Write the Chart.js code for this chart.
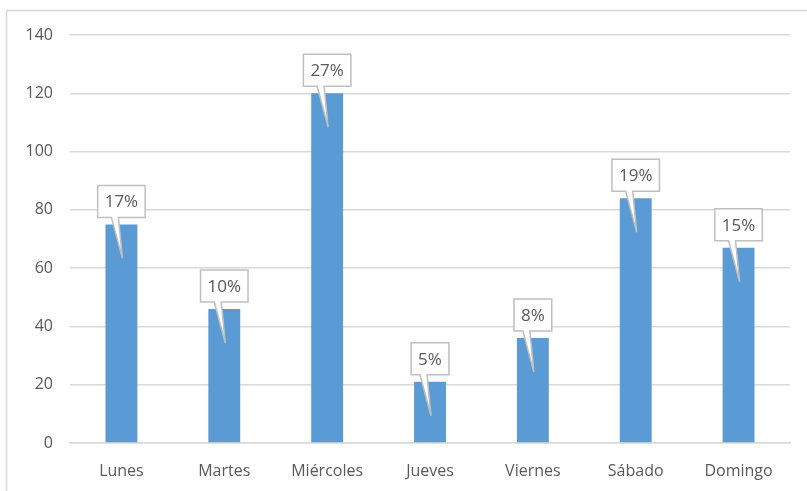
<!DOCTYPE html>
<html>
<head>
<meta charset="utf-8">
<script src="https://cdn.jsdelivr.net/npm/chart.js@4"></script>
<style>
  html, body { margin: 0; padding: 0; background: #fff; }
  #wrap { width: 807px; height: 491px; position: relative; }
</style>
</head>
<body>
<div id="wrap"><canvas id="myChart" width="807" height="491"></canvas></div>
<script>
const labels = ['Lunes', 'Martes', 'Miércoles', 'Jueves', 'Viernes', 'Sábado', 'Domingo'];
const datapoints = [75, 46, 120, 21, 36, 84, 67];
const percentLabels = ['17%', '10%', '27%', '5%', '8%', '19%', '15%'];
const yTicks = [0, 20, 40, 60, 80, 100, 120, 140];

const textColor = '#595959';
const fontFamily = '"Open Sans", "Liberation Sans", sans-serif';

// frame around the chart (only left and top edges are visible in the picture)
const framePlugin = {
    id: 'frame',
    beforeDraw(chart) {
        const ctx = chart.ctx;
        ctx.save();
        ctx.strokeStyle = '#d9d9d9';
        ctx.lineWidth = 1.5;
        ctx.strokeRect(6.5, 10.5, 1000, 600);
        ctx.restore();
    }
};

// excel style callout labels
const calloutPlugin = {
    id: 'callouts',
    afterDatasetsDraw(chart) {
        const ctx = chart.ctx;
        const meta = chart.getDatasetMeta(0);
        ctx.save();
        ctx.font = '17px ' + fontFamily;
        meta.data.forEach((bar, i) => {
            const text = percentLabels[i];
            const w = ctx.measureText(text).width + 14;
            const h = 32;
            const cx = bar.x;
            const bottom = bar.y - 7;
            const top = bottom - h;
            const left = cx - w / 2;
            const right = cx + w / 2;
            const tipX = cx + 1;
            const tipY = bar.y + 34;

            ctx.beginPath();
            ctx.moveTo(left, top);
            ctx.lineTo(right, top);
            ctx.lineTo(right, bottom);
            ctx.lineTo(cx - 3, bottom);
            ctx.lineTo(tipX, tipY);
            ctx.lineTo(cx - 10, bottom);
            ctx.lineTo(left, bottom);
            ctx.closePath();
            ctx.fillStyle = '#ffffff';
            ctx.fill();
            ctx.strokeStyle = '#bfbfbf';
            ctx.lineWidth = 1.5;
            ctx.stroke();

            ctx.fillStyle = textColor;
            ctx.textAlign = 'center';
            ctx.textBaseline = 'middle';
            ctx.fillText(text, cx, top + h / 2 + 1);
        });
        ctx.restore();
    }
};

const data = {
    labels: labels,
    datasets: [{
        data: datapoints,
        backgroundColor: '#5b9bd5',
        barPercentage: 0.31,
        categoryPercentage: 1
    }]
};

const config = {
    type: 'bar',
    data: data,
    options: {
        responsive: false,
        animation: false,
        layout: {
            padding: { top: 35, right: 17, left: 0, bottom: 0 }
        },
        plugins: {
            legend: { display: false },
            tooltip: { enabled: false }
        },
        scales: {
            x: {
                grid: { display: false },
                border: { color: '#d9d9d9', width: 1.5 },
                ticks: {
                    color: textColor,
                    font: { family: fontFamily, size: 16 },
                    padding: 11,
                    maxRotation: 0
                },
                afterFit(scale) { scale.height = 48; }
            },
            y: {
                min: 0,
                max: 140,
                grid: { color: '#d9d9d9', lineWidth: 1.5, drawTicks: false },
                border: { display: false },
                afterBuildTicks(scale) {
                    scale.ticks = yTicks.map(v => ({ value: v }));
                },
                ticks: {
                    color: textColor,
                    font: { family: fontFamily, size: 16 },
                    padding: 17
                },
                afterFit(scale) { scale.width = 70; }
            }
        }
    },
    plugins: [framePlugin, calloutPlugin]
};

const ctx = document.getElementById('myChart').getContext('2d');
const myChart = new Chart(ctx, config);
</script>
</body>
</html>
